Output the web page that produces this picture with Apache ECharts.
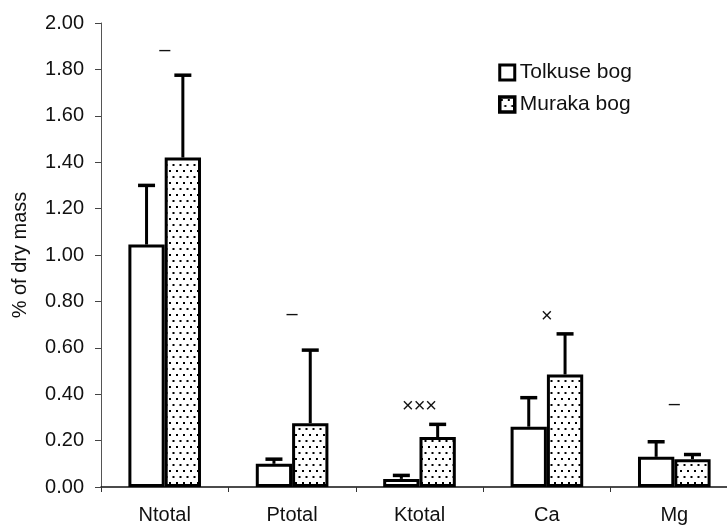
<!DOCTYPE html>
<html>
<head>
<meta charset="utf-8">
<script src="https://cdn.jsdelivr.net/npm/echarts@6/dist/echarts.min.js"></script>
<style>
html,body{margin:0;padding:0;background:#fff;}
#chart{width:727px;height:526px;}
</style>
</head>
<body>
<div id="chart"></div>
<script>
const categories = ['Ntotal', 'Ptotal', 'Ktotal', 'Ca', 'Mg'];
const seriesNames = ['Tolkuse bog', 'Muraka bog'];
const tolkuse = [1.045, 0.10, 0.035, 0.26, 0.13];
const tolkuseErrTop = [1.30, 0.12, 0.05, 0.385, 0.195];
const muraka = [1.42, 0.275, 0.215, 0.485, 0.12];
const murakaErrTop = [1.775, 0.59, 0.27, 0.66, 0.14];
const marks = ['–', '–', '×××', '×', '–'];
const markY = [1.88, 0.745, 0.345, 0.735, 0.355];
const yTicks = { min: 0, max: 2, interval: 0.2 };

const FONT = 'Liberation Sans, Arial, Helvetica, sans-serif';
const BAR_GAP_CAT = 0.43;

// dotted pattern
const pc = document.createElement('canvas');
pc.width = 7; pc.height = 12;
const pctx = pc.getContext('2d');
pctx.fillStyle = '#fff';
pctx.fillRect(0, 0, 7, 12);
pctx.fillStyle = '#000';
pctx.fillRect(1, 2, 2, 2);
pctx.fillRect(4.5, 8, 2, 2);

const chart = echarts.init(document.getElementById('chart'), null, { renderer: 'canvas' });

function errRender(sideSign, params, api) {
  const i = api.value(0);
  const top = api.coord([i, api.value(1)]);
  const err = api.coord([i, api.value(2)]);
  const bw = api.size([1, 0])[0];
  const barW = bw * (1 - BAR_GAP_CAT) / 2;
  const x = top[0] + sideSign * barW / 2;
  const capHalf = 8.5;
  return {
    type: 'group',
    children: [
      { type: 'line', shape: { x1: x, y1: top[1], x2: x, y2: err[1] }, style: { stroke: '#000', lineWidth: 3 } },
      { type: 'line', shape: { x1: x - capHalf, y1: err[1], x2: x + capHalf, y2: err[1] }, style: { stroke: '#000', lineWidth: 3.5 } }
    ]
  };
}

const option = {
  backgroundColor: '#fff',
  animation: false,
  textStyle: { fontFamily: FONT },
  grid: { left: 101, right: -11, top: 23, bottom: 39, containLabel: false, outerBoundsMode: 'none' },
  legend: {
    orient: 'vertical',
    left: 493,
    top: 57,
    itemWidth: 15,
    itemHeight: 15,
    itemGap: 11,
    icon: 'rect',
    data: [
      { name: seriesNames[0], itemStyle: { color: '#fff', borderColor: '#000', borderWidth: 3 } },
      { name: seriesNames[1], itemStyle: { color: { image: pc, repeat: 'repeat' }, borderColor: '#000', borderWidth: 3.5 } }
    ],
    textStyle: { fontSize: 21, color: '#111', fontFamily: FONT }
  },
  xAxis: {
    type: 'category',
    data: categories,
    axisLine: { lineStyle: { color: '#111', width: 1.5 } },
    axisTick: { show: true, length: 5, lineStyle: { color: '#333', width: 1 } },
    axisLabel: { fontSize: 20, color: '#111', margin: 18, fontFamily: FONT },
    splitLine: { show: false }
  },
  yAxis: {
    type: 'value',
    min: yTicks.min,
    max: yTicks.max,
    interval: yTicks.interval,
    name: '% of dry mass',
    nameLocation: 'middle',
    nameGap: 71,
    nameRotate: 90,
    nameTextStyle: { fontSize: 20, color: '#111', fontFamily: FONT },
    axisLine: { show: true, lineStyle: { color: '#555', width: 1 } },
    axisTick: { show: true, length: 6, lineStyle: { color: '#444', width: 1 } },
    axisLabel: { fontSize: 20, color: '#111', margin: 17, fontFamily: FONT, formatter: v => v.toFixed(2) },
    splitLine: { show: false }
  },
  series: [
    {
      name: seriesNames[0],
      type: 'bar',
      data: tolkuse,
      barGap: '0%',
      barCategoryGap: (BAR_GAP_CAT * 100) + '%',
      itemStyle: { color: '#fff', borderColor: '#000', borderWidth: 3 },
      z: 2
    },
    {
      name: seriesNames[1],
      type: 'bar',
      data: muraka,
      barGap: '0%',
      barCategoryGap: (BAR_GAP_CAT * 100) + '%',
      itemStyle: { color: { image: pc, repeat: 'repeat' }, borderColor: '#000', borderWidth: 3 },
      z: 2
    },
    {
      type: 'custom',
      name: 'errT',
      renderItem: (p, api) => errRender(-1, p, api),
      data: tolkuse.map((v, i) => [i, v, tolkuseErrTop[i]]),
      encode: { x: 0, y: [1, 2] },
      z: 3,
      silent: true
    },
    {
      type: 'custom',
      name: 'errM',
      renderItem: (p, api) => errRender(1, p, api),
      data: muraka.map((v, i) => [i, v, murakaErrTop[i]]),
      encode: { x: 0, y: [1, 2] },
      z: 3,
      silent: true
    },
    {
      type: 'custom',
      name: 'marks',
      renderItem: (p, api) => {
        const i = api.value(0);
        const c = api.coord([i, api.value(1)]);
        return {
          type: 'text',
          x: c[0], y: c[1],
          style: { text: marks[i], fontSize: 20, fill: '#111', align: 'center', verticalAlign: 'middle', fontFamily: FONT }
        };
      },
      data: markY.map((v, i) => [i, v]),
      encode: { x: 0, y: 1 },
      z: 4,
      silent: true
    }
  ]
};
chart.setOption(option);
</script>
</body>
</html>
